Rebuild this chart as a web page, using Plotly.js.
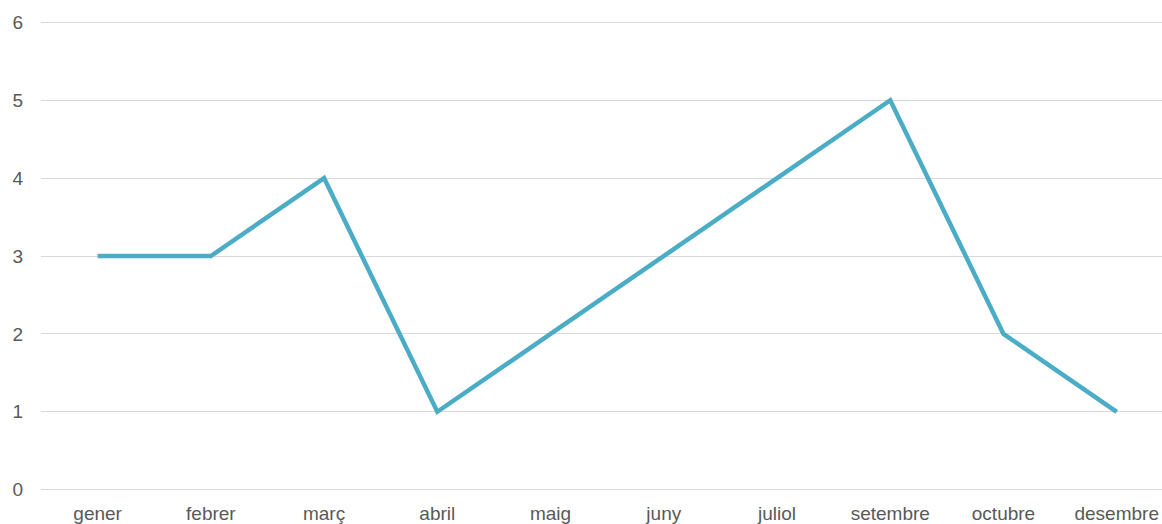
<!DOCTYPE html>
<html><head><meta charset="utf-8">
<script src="https://cdn.plot.ly/plotly-3.0.1.min.js"></script>
<style>html,body{margin:0;padding:0;background:#fff}#chart{width:1162px;height:524px}</style>
</head><body><div id="chart"></div>
<script>
const categories = ["gener","febrer","març","abril","maig","juny","juliol","setembre","octubre","desembre"];
const values = [3,3,4,1,2,3,4,5,2,1];
const yTicks = [0,1,2,3,4,5,6];

const trace = {
  x: categories.map((c,i)=>i),
  y: values,
  type: "scatter",
  mode: "lines",
  line: {color: "#4bacc6", width: 4.5},
  hoverinfo: "skip",
  cliponaxis: false
};
const layout = {
  width: 1162, height: 524,
  margin: {l: 41, r: 0, t: 20, b: 32},
  paper_bgcolor: "#fff", plot_bgcolor: "#fff",
  showlegend: false,
  font: {family: "Liberation Sans, Arial, sans-serif", size: 19, color: "#595959"},
  xaxis: {
    range: [-0.5, 9.40],
    tickmode: "array",
    tickvals: categories.map((c,i)=>i),
    ticktext: categories,
    showgrid: false, zeroline: false, showline: false,
    ticks: "", ticklen: 0, ticklabelstandoff: 8,
    tickfont: {size: 19, color: "#595959"}
  },
  yaxis: {
    range: [-0.03, 6.03],
    tickmode: "array",
    tickvals: yTicks,
    ticktext: yTicks.map(String),
    showgrid: true, gridcolor: "#d9d9d9", gridwidth: 1,
    zeroline: false, showline: false,
    ticks: "", ticklabelstandoff: 17,
    tickfont: {size: 19, color: "#595959"}
  }
};
Plotly.newPlot("chart", [trace], layout, {displayModeBar: false, staticPlot: true});
</script></body></html>
